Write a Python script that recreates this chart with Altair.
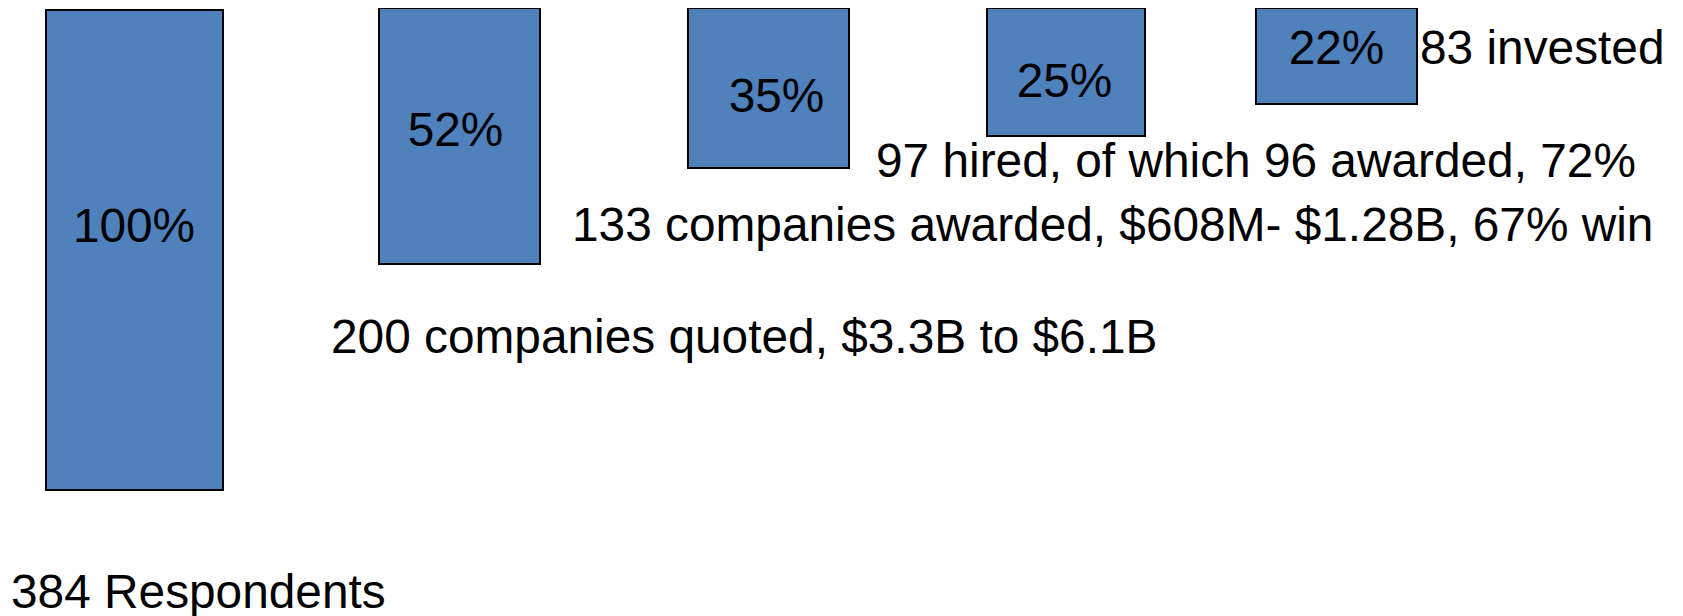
import altair as alt
import pandas as pd

# ---- data ----
stages = ["Respondents", "Quoted", "Awarded", "Hired", "Invested"]
pct_labels = ["100%", "52%", "35%", "25%", "22%"]
captions = [
    "384 Respondents",
    "200 companies quoted, $3.3B to $6.1B",
    "133 companies awarded, $608M- $1.28B, 67% win",
    "97 hired, of which 96 awarded, 72%",
    "83 invested",
]

# diagram layout units (page pixels of the original slide)
bar_left = [46, 379, 688, 987, 1256]
bar_right = [223, 540, 849, 1145, 1417]
bar_top = [10, 8, 8, 8, 8]
bar_bottom = [490, 264, 168, 136, 104]
pct_x = [134, 455.5, 776.5, 1064.5, 1336.5]
pct_y = [242, 146, 112, 97, 64]
cap_x = [11, 331, 572, 876, 1420]
cap_y = [608, 353, 241, 177, 64]

bars = pd.DataFrame({
    "stage": stages, "x0": bar_left, "x1": bar_right,
    "y0": bar_top, "y1": bar_bottom,
})
pcts = pd.DataFrame({"stage": stages, "label": pct_labels, "x": pct_x, "y": pct_y})
caps = pd.DataFrame({"stage": stages, "label": captions, "x": cap_x, "y": cap_y})

W, H = 1667, 608
xs = alt.Scale(domain=[8, 8 + W], range=[0, W], nice=False, zero=False)
ys = alt.Scale(domain=[8, 8 + H], range=[0, H], nice=False, zero=False)
noax = None

FONT = "Liberation Sans"
FS = 47.8

bar_layer = alt.Chart(bars).mark_rect(
    fill="#4F81BD", stroke="#000000", strokeWidth=2
).encode(
    x=alt.X("x0:Q", scale=xs, axis=noax),
    x2="x1:Q",
    y=alt.Y("y0:Q", scale=ys, axis=noax),
    y2="y1:Q",
)

pct_layer = alt.Chart(pcts).mark_text(
    font=FONT, fontSize=FS, color="#000000", align="center", baseline="alphabetic"
).encode(
    x=alt.X("x:Q", scale=xs, axis=noax),
    y=alt.Y("y:Q", scale=ys, axis=noax),
    text="label:N",
)

cap_layer = alt.Chart(caps).mark_text(
    font=FONT, fontSize=FS, color="#000000", align="left", baseline="alphabetic"
).encode(
    x=alt.X("x:Q", scale=xs, axis=noax),
    y=alt.Y("y:Q", scale=ys, axis=noax),
    text="label:N",
)

chart = alt.layer(bar_layer, pct_layer, cap_layer).properties(
    width=W, height=H, padding=0,
    autosize=alt.AutoSizeParams(type="none"),
    background="#ffffff",
).configure_view(stroke=None)

chart.save("out.html", embed_options={"renderer": "svg", "actions": False})
